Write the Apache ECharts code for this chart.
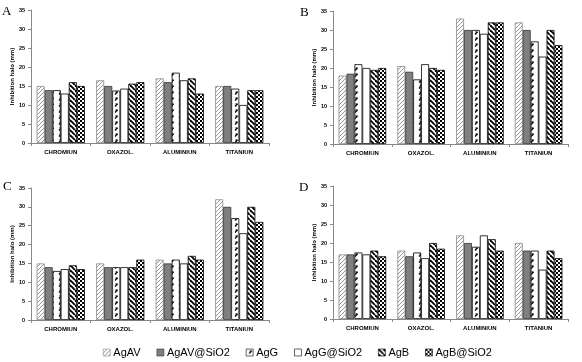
<!DOCTYPE html>
<html>
<head>
<meta charset="utf-8">
<script src="https://cdn.jsdelivr.net/npm/echarts@6/dist/echarts.min.js"></script>
<style>
  html, body { margin: 0; padding: 0; background: #fff; }
  #main { width: 582px; height: 362px; }
</style>
</head>
<body>
<div id="main"></div>
<script>
const categories = ['CHROMIUN', 'OXAZOL.', 'ALUMINIUN', 'TITANIUN'];
const seriesNames = ['AgAV', 'AgAV@SiO2', 'AgG', 'AgG@SiO2', 'AgB', 'AgB@SiO2'];
const panelLetters = ['A', 'B', 'C', 'D'];

// one row per series, values in category order
const panelA = [
  [15, 16.5, 17, 15],
  [13.9, 15, 16, 15],
  [13.9, 13.8, 18.5, 14.3],
  [13, 14.3, 16.5, 10],
  [16, 15.6, 17, 13.9],
  [15, 16, 13, 13.9]
];
const panelB = [
  [18, 20.5, 33, 32],
  [18.5, 19, 30, 30],
  [21, 17, 30, 27],
  [20, 21, 29, 23],
  [19.5, 20, 32, 30],
  [20, 19.5, 32, 26]
];
const panelC = [
  [15, 15, 16, 32],
  [14, 14, 15, 30],
  [13, 14, 16, 27],
  [13.5, 14, 15, 23],
  [14.5, 14, 17, 30],
  [13.5, 16, 16, 26]
];
const panelD = [
  [17, 18, 22, 20],
  [17, 16.5, 20, 18],
  [17.5, 17.5, 19, 18],
  [17, 16, 22, 13],
  [18, 20, 21, 18],
  [16.5, 18.5, 18, 16]
];
const yTicks = { min: 0, max: 35, interval: 5 };

function pattern(kind) {
  let c = document.createElement('canvas');
  let ctx = c.getContext('2d');
  let s;
  if (kind == 'fwd') {
    s = 4; c.width = s; c.height = s;
    ctx.fillStyle = '#fff'; ctx.fillRect(0, 0, s, s);
    ctx.strokeStyle = '#8a8a8a'; ctx.lineWidth = 0.9;
    for (let k = -s; k <= s; k += s) {
      ctx.beginPath(); ctx.moveTo(k, s); ctx.lineTo(k + s, 0); ctx.stroke();
    }
  } else if (kind == 'dash') {
    c.width = 8; c.height = 6;
    ctx.fillStyle = '#fff'; ctx.fillRect(0, 0, 8, 6);
    ctx.strokeStyle = '#000'; ctx.lineWidth = 1.2;
    ctx.beginPath(); ctx.moveTo(3, 4.5); ctx.lineTo(5.5, 2); ctx.stroke();
    ctx.beginPath(); ctx.moveTo(3.5, 2); ctx.lineTo(5.5, 2); ctx.stroke();
  } else if (kind == 'back') {
    s = 5; c.width = s; c.height = s;
    ctx.fillStyle = '#fff'; ctx.fillRect(0, 0, s, s);
    ctx.strokeStyle = '#000'; ctx.lineWidth = 1.8;
    for (let k = -s; k <= s; k += s) {
      ctx.beginPath(); ctx.moveTo(k, 0); ctx.lineTo(k + s, s); ctx.stroke();
    }
  } else if (kind == 'check') {
    c.width = 4; c.height = 4;
    ctx.fillStyle = '#fff'; ctx.fillRect(0, 0, 4, 4);
    ctx.fillStyle = '#000';
    ctx.fillRect(0, 0, 2, 2); ctx.fillRect(2, 2, 2, 2);
  }
  return { image: c, repeat: 'repeat' };
}

const barStyles = [
  { color: pattern('fwd'), borderColor: '#8a8a8a', borderWidth: 0.8 },
  { color: '#7f7f7f', borderColor: '#333', borderWidth: 0.8 },
  { color: pattern('dash'), borderColor: '#000', borderWidth: 0.8 },
  { color: '#fff', borderColor: '#000', borderWidth: 0.8 },
  { color: pattern('back'), borderColor: '#000', borderWidth: 0.8 },
  { color: pattern('check'), borderColor: '#000', borderWidth: 0.8 }
];

const panels = [panelA, panelB, panelC, panelD];
const grids = [
  { left: 31, top: 10, width: 238, height: 133 },
  { left: 333, top: 11, width: 235, height: 133 },
  { left: 31, top: 188, width: 238, height: 132 },
  { left: 333, top: 186, width: 235, height: 133 }
];
const letterPos = [[2, 5], [300, 6], [3, 180], [299, 181]];

let chart = echarts.init(document.getElementById('main'), null, { renderer: 'canvas' });

let xAxes = [], yAxes = [], series = [], titles = [];
panels.forEach((p, i) => {
  xAxes.push({
    type: 'category',
    gridIndex: i,
    data: categories,
    axisLine: { lineStyle: { color: '#888', width: 1 } },
    axisTick: { show: true, length: 3, lineStyle: { color: '#888' } },
    axisLabel: { fontSize: 6, fontWeight: 'bold', color: '#000', fontFamily: 'Liberation Sans', margin: 6 }
  });
  yAxes.push({
    type: 'value',
    gridIndex: i,
    min: yTicks.min,
    max: yTicks.max,
    interval: yTicks.interval,
    name: 'Inhibition halo (mm)',
    nameLocation: 'middle',
    nameGap: 16,
    nameTextStyle: { fontSize: 6, fontWeight: 'bold', color: '#000', fontFamily: 'Liberation Sans' },
    axisLine: { show: true, lineStyle: { color: '#888', width: 1 } },
    axisTick: { show: true, length: 3, lineStyle: { color: '#888' } },
    axisLabel: { fontSize: 5.5, fontWeight: 'bold', color: '#000', fontFamily: 'Liberation Sans', margin: 6 },
    splitLine: { show: false }
  });
  p.forEach((vals, s) => {
    series.push({
      name: seriesNames[s],
      type: 'bar',
      xAxisIndex: i,
      yAxisIndex: i,
      barGap: 0,
      barCategoryGap: '19%',
      itemStyle: barStyles[s],
      emphasis: { disabled: true },
      data: vals
    });
  });
  titles.push({
    text: panelLetters[i],
    left: letterPos[i][0],
    top: letterPos[i][1],
    padding: 0,
    textStyle: { fontFamily: 'Liberation Serif', fontSize: 13, fontWeight: 'normal', color: '#000' }
  });
});

chart.setOption({
  animation: false,
  backgroundColor: '#fff',
  title: titles,
  legend: {
    data: seriesNames,
    left: 98,
    top: 342,
    icon: 'rect',
    itemWidth: 7,
    itemHeight: 7,
    itemGap: 16,
    itemStyle: { borderWidth: 0.6 },
    textStyle: { fontSize: 11, color: '#000', fontFamily: 'Liberation Sans', padding: [0, 0, 0, -2] }
  },
  grid: grids,
  xAxis: xAxes,
  yAxis: yAxes,
  series: series
});
</script>
</body>
</html>
